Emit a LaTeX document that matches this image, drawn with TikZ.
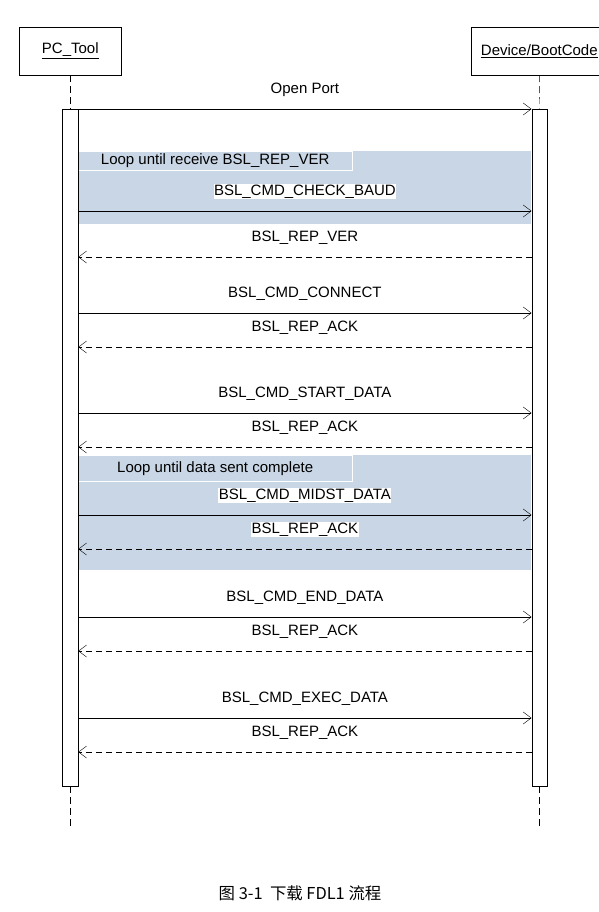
\documentclass[tikz,border=0pt]{standalone}
\usepackage{fontspec}
\setmainfont{Liberation Sans}
\newfontfamily\cjkfont{Noto Sans CJK SC}
\usetikzlibrary{arrows.meta,calc}
\definecolor{loopblue}{RGB}{201,214,229}
\tikzset{
  head/.style={draw,minimum height=48pt,inner sep=0pt},
  bar/.style={draw,fill=white,minimum width=15.5pt,minimum height=677pt,inner sep=0pt},
  lifeline/.style={dash pattern=on 7pt off 4pt},
  call/.style={-{Straight Barb[length=8pt,width=12pt]}},
  reply/.style={call,dash pattern=on 6pt off 4pt},
  msglabel/.style={fill=white,inner sep=0.5pt,font=\fontsize{15}{17}\selectfont},
  looplabel/.style={draw=white,fill=loopblue,minimum width=274pt,minimum height=19.5pt,
    inner sep=0pt,anchor=north west,font=\fontsize{15}{17}\selectfont},
}
\begin{document}
\begin{tikzpicture}[x=1pt,y=-1pt]
    \useasboundingbox (0,0) rectangle (599,912);
    \clip (0,0) rectangle (599,912);
    %heads
    \node[head,minimum width=102pt,font=\fontsize{15}{17}\selectfont] (pc) at (70.3,51) {\underline{PC\_Tool}};
    \node[head,minimum width=137pt,font=\fontsize{15}{17}\selectfont] (dev) at (539.3,51) {\underline{Device/BootCode}};
    %loops
    \fill[loopblue] (78,151) rectangle (531,224);
    \node[looplabel] (loop1) at (78,151) {Loop until receive BSL\_REP\_VER};
    \fill[loopblue] (78,455) rectangle (531,570);
    \node[looplabel,minimum height=26pt] (loop2) at (78,455) {Loop until data sent complete};
    %bars
    \node[bar] (pcbar) at (70.3,447.5) {};
    \node[bar] (devbar) at (539.5,447.5) {};
    \coordinate (pcend) at (70.3,828);
    \coordinate (devend) at (539.5,828);
    \draw[lifeline] (pc.south) -- (pcbar.north);
    \draw[lifeline] (dev.south) -- (devbar.north);
    \draw[lifeline] (pcbar.south) -- (pcend);
    \draw[lifeline] (devbar.south) -- (devend);
    %messages
    \foreach \y/\txt/\kind in {109/Open Port/call, 211/BSL\_CMD\_CHECK\_BAUD/call,
        257/BSL\_REP\_VER/reply, 313/BSL\_CMD\_CONNECT/call, 347/BSL\_REP\_ACK/reply,
        413/BSL\_CMD\_START\_DATA/call, 447/BSL\_REP\_ACK/reply,
        515/BSL\_CMD\_MIDST\_DATA/call, 549/BSL\_REP\_ACK/reply,
        617/BSL\_CMD\_END\_DATA/call, 651/BSL\_REP\_ACK/reply,
        718/BSL\_CMD\_EXEC\_DATA/call, 752/BSL\_REP\_ACK/reply}{
      \coordinate (pc-\y) at (pcbar.east |- 0,\y);
      \coordinate (dev-\y) at (devbar.west |- 0,\y);
      \node[msglabel] (lbl-\y) at ($(pc-\y)!0.5!(dev-\y)+(0,-19.5)$) {\txt};
    }
    \foreach \y in {109,211,313,413,515,617,718}
      \draw[call] (pc-\y) -- (dev-\y);
    \foreach \y in {257,347,447,549,651,752}
      \draw[reply] (dev-\y) -- (pc-\y);
    %caption
    \node[font=\cjkfont\fontsize{16.4}{19}\selectfont] (caption) at (300,893) {图 3-1\ \ 下载 FDL1 流程};
\end{tikzpicture}
\end{document}
